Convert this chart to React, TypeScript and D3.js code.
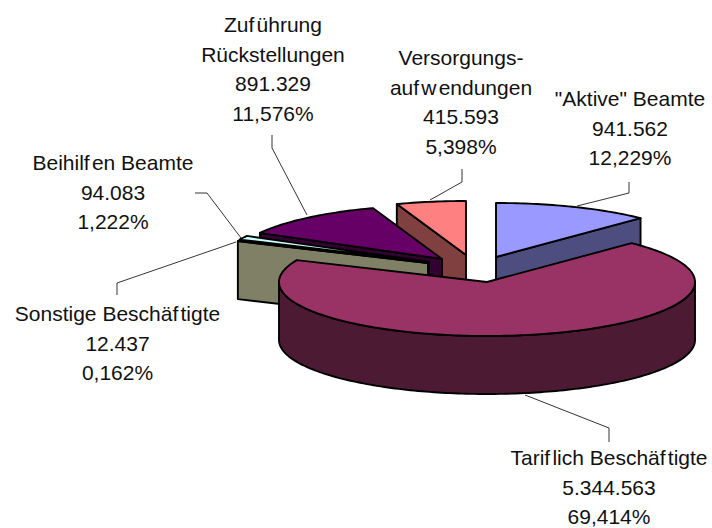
import React from "react";
import * as d3 from "d3";

// ---- data ----
const categories = ['"Aktive" Beamte', "Tariflich Beschäftigte", "Sonstige Beschäftigte", "Beihilfen Beamte", "Zuführung Rückstellungen", "Versorgungs-aufwendungen"];
const amounts = [941562, 5344563, 12437, 94083, 891329, 415593];
const amountLabels = ["941.562", "5.344.563", "12.437", "94.083", "891.329", "415.593"];
const shareLabels = ["12,229%", "69,414%", "0,162%", "1,222%", "11,576%", "5,398%"];
const nameLines = [['"Aktive" Beamte'], ["Tariflich Beschäftigte"], ["Sonstige Beschäftigte"], ["Beihilfen Beamte"], ["Zuführung", "Rückstellungen"], ["Versorgungs-", "aufwendungen"]];

// ---- styling and layout ----
const topColors = ["#9999FF", "#993366", "#FFFFCC", "#CCFFFF", "#660066", "#FF8080"];
const sideColors = ["#4D4D80", "#4D1A33", "#808066", "#668080", "#330033", "#804040"];
const drawOrder = [5, 4, 3, 2, 0, 1];
const W = 712, H = 528;
const RX = 208, RY = 54, DEPTH = 58;
const apexX = [496, 487, 428, 429, 442, 466];
const apexY = [257, 282, 263, 262, 259, 255];
const labelX = [630, 609, 117.5, 113, 273, 461];
const labelY = [106, 465, 321, 170, 32, 65];
const lineGap = 29.6;
const glyphGap = 2.2;
const leaders = [
  [[629, 182], [629, 193], [577, 206]],
  [[609, 442], [609, 428], [525, 395]],
  [[117, 295], [117, 283], [236, 242]],
  [[195, 193], [207, 193], [241, 238]],
  [[272, 135], [272, 148], [307, 215]],
  [[462, 169], [462, 182], [430, 200]],
] as [number, number][][];

const pie = d3.pie<number>().sort(null).value((d) => d);
const arcs = pie(amounts);
const line = d3.line<[number, number]>();

type P = [number, number];

function rimPoint(i: number, a: number, dy = 0): P {
  const sx = d3.scaleLinear().domain([-1, 1]).range([apexX[i] - RX, apexX[i] + RX]);
  const sy = d3.scaleLinear().domain([-1, 1]).range([apexY[i] + RY, apexY[i] - RY]);
  return [sx(Math.sin(a)), sy(Math.cos(a)) + dy];
}
function rimPath(i: number, a0: number, a1: number, dy = 0): P[] {
  const n = Math.max(2, Math.ceil(Math.abs(a1 - a0) / 0.02));
  return d3.range(n + 1).map((k) => rimPoint(i, a0 + ((a1 - a0) * k) / n, dy));
}

function Slice({ i }: { i: number }) {
  const a0 = arcs[i].startAngle, a1 = arcs[i].endAngle;
  const apex: P = [apexX[i], apexY[i]];
  const apexLow: P = [apexX[i], apexY[i] + DEPTH];
  const faces: P[][] = [];
  if (a0 > Math.PI) {
    const rim = rimPoint(i, a0);
    faces.push([apex, rim, [rim[0], rim[1] + DEPTH], apexLow]);
  }
  if (a1 < Math.PI) {
    const rim = rimPoint(i, a1);
    faces.push([apex, rim, [rim[0], rim[1] + DEPTH], apexLow]);
  }
  const w0 = Math.max(a0, Math.PI / 2), w1 = Math.min(a1, (3 * Math.PI) / 2);
  const wall: P[] | null = w1 > w0 ? [...rimPath(i, w0, w1), ...rimPath(i, w1, w0, DEPTH)] : null;
  const top: P[] = [apex, ...rimPath(i, a0, a1)];
  const common = { stroke: "#000", strokeWidth: 1.9, strokeLinejoin: "round" as const };
  return (
    <g data-name={categories[i]}>
      {faces.map((f, k) => (
        <path key={k} d={line(f)! + "Z"} fill={sideColors[i]} {...common} />
      ))}
      {wall && <path d={line(wall)! + "Z"} fill={sideColors[i]} {...common} />}
      <path d={line(top)! + "Z"} fill={topColors[i]} {...common} />
    </g>
  );
}

function Row({ x, y, text }: { x: number; y: number; text: string }) {
  const parts = text.split(/(?<=[fw])/);
  return (
    <text x={x} y={y} textAnchor="middle" fontFamily="'Liberation Sans', Arial, sans-serif" fontSize={21} fill="#111">
      {parts.map((p, k) => (
        <tspan key={k} dx={k ? glyphGap : 0}>{p}</tspan>
      ))}
    </text>
  );
}

export default function App() {
  return (
    <svg width={W} height={H} viewBox={`0 0 ${W} ${H}`} style={{ position: "fixed", left: 0, top: 0, background: "#fff" }}>
      {drawOrder.map((i) => (
        <Slice key={i} i={i} />
      ))}
      {leaders.map((l, i) => (
        <path key={i} d={line(l)!} fill="none" stroke="#000" strokeWidth={0.8} />
      ))}
      {categories.map((_, i) => {
        const rows = [...nameLines[i], amountLabels[i], shareLabels[i]];
        return (
          <g key={i}>
            {rows.map((r, k) => (
              <Row key={k} x={labelX[i]} y={labelY[i] + k * lineGap} text={r} />
            ))}
          </g>
        );
      })}
    </svg>
  );
}
